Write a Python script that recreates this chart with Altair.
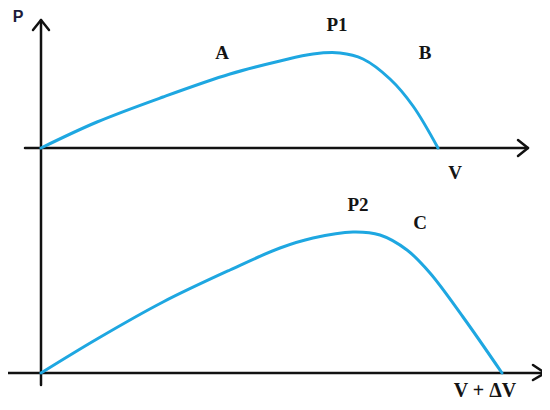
import altair as alt
import pandas as pd

# Upper curve: P(V)
upper_v = [0, 56, 122, 189, 239, 272, 299, 322, 349, 372, 397]
upper_p = [0, 26, 51, 74, 87, 94, 95, 89, 69, 42, 0]

# Lower curve: P(V + dV), heights above its own baseline
lower_v = [0, 56, 122, 189, 239, 272, 312, 339, 366, 389, 422, 461]
lower_p = [0, 34, 71, 103, 125, 135, 141, 138, 123, 100, 56, 0]
lower_base = -225

# Axis lines (segments)
axis_seg = ["vert", "vert", "up", "up", "low", "low",
            "ua", "ua", "ua", "la", "la", "la", "va", "va", "va"]
axis_x = [0, 0, -16, 487, -34, 504,
          477, 487, 477, 492, 504, 492, -8, 0, 8]
axis_y = [128, -237, 0, 0, -225, -225,
          8, 0, -8, -217, -225, -232, 118, 128, 118]
axis_ord = [0, 1, 0, 1, 0, 1, 0, 1, 2, 0, 1, 2, 0, 1, 2]

# Labels
lab_text = ["A", "P1", "B", "V", "P2", "C"]
lab_x = [181, 296, 384, 414, 317, 379]
lab_y = [95, 123, 95, -25, -57, -75]

xs = alt.Scale(domain=[-33, 501], nice=False, zero=False)
ys = alt.Scale(domain=[-254, 140], nice=False, zero=False)

curves = pd.DataFrame({
    "v": upper_v + lower_v,
    "p": upper_p + [p + lower_base for p in lower_p],
    "c": ["upper"] * len(upper_v) + ["lower"] * len(lower_v),
    "o": list(range(len(upper_v))) + list(range(len(lower_v))),
})
axes_df = pd.DataFrame({"v": axis_x, "p": axis_y, "s": axis_seg, "o": axis_ord})
labels = pd.DataFrame({"t": lab_text, "v": lab_x, "p": lab_y})
dvlabel = pd.DataFrame({"t": ["V + ΔV"], "v": [444], "p": [-249]})
plabel = pd.DataFrame({"t": ["P"], "v": [-23], "p": [131]})

X = alt.X("v:Q", scale=xs, axis=None)
Y = alt.Y("p:Q", scale=ys, axis=None)

axes_layer = alt.Chart(axes_df).mark_line(
    color="#111111", strokeWidth=2.5, strokeCap="round", strokeJoin="round"
).encode(x=X, y=Y, detail="s:N", order="o:Q")

curve_layer = alt.Chart(curves).mark_line(
    color="#1ea7e1", strokeWidth=3, interpolate="catmull-rom", strokeCap="round"
).encode(x=X, y=Y, detail="c:N", order="o:Q")

text_layer = alt.Chart(labels).mark_text(
    font="Liberation Serif", fontWeight="bold", fontSize=19,
    color="#141414", align="center", baseline="middle"
).encode(x=X, y=Y, text="t:N")

dv_layer = alt.Chart(dvlabel).mark_text(
    font="Liberation Serif", fontWeight="bold", fontSize=20,
    color="#141414", align="center", baseline="alphabetic"
).encode(x=X, y=Y, text="t:N")

p_layer = alt.Chart(plabel).mark_text(
    font="Liberation Sans", fontWeight="bold", fontSize=16,
    color="#1c1c3a", align="center", baseline="middle"
).encode(x=X, y=Y, text="t:N")

chart = alt.layer(axes_layer, curve_layer, text_layer, dv_layer, p_layer).properties(
    width=534, height=394, padding=0, autosize=alt.AutoSizeParams(type="none")
).configure_view(stroke=None)

chart.save("out.html", embed_options={"renderer": "svg", "actions": False})
